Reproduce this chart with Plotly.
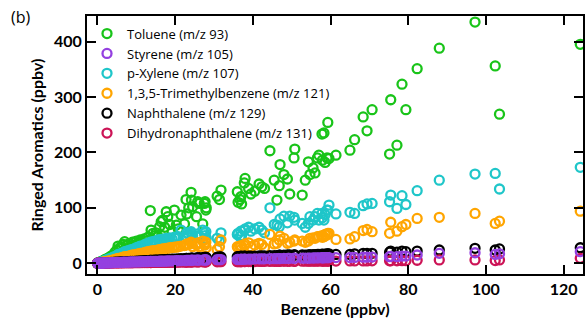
import plotly.graph_objects as go

benzene = [0.0, 0.3, 0.6, 0.9, 1.2, 1.5, 1.9, 2.3, 2.7, 3.1, 3.5, 4.0, 4.5, 5.0, 5.3, 5.8, 6.2, 6.6, 7.0, 7.5,
           8.0, 8.5, 9.0, 9.5, 10.0, 10.5, 11.0, 11.5, 12.0, 12.5, 13.0, 13.6, 13.8, 14.3, 14.8, 15.1, 15.6, 16.0, 16.4, 16.8,
           17.3, 17.7, 18.1, 18.6, 19.2, 19.8, 20.3, 20.8, 21.5, 22.4, 22.8, 23.0, 23.5, 24.1, 24.2, 24.5, 25.5, 25.8, 26.2, 27.1,
           27.5, 27.7, 27.9, 28.0, 30.8, 31.4, 31.8, 36.0, 36.2, 36.7, 36.9, 37.1, 37.8, 38.0, 38.9, 39.5, 40.5, 41.6, 42.3, 43.0,
           44.4, 45.5, 46.2, 46.8, 47.0, 48.0, 48.9, 49.5, 50.6, 50.8, 52.7, 53.5, 54.3, 54.7, 55.5, 56.0, 56.6, 57.0, 57.8, 57.9,
           58.3, 58.6, 59.1, 59.3, 59.6, 61.4, 65.0, 66.2, 68.4, 69.4, 70.7, 75.2, 75.5, 77.1, 78.4, 79.4, 82.3, 88.0, 97.2, 102.4,
           103.5, 124.3]

toluene = [0.5, 1.2, 2.0, 2.8, 4.0, 5.0, 6.5, 8.0, 9.0, 11, 13, 15, 20, 24, 31, 28, 30, 34, 39, 32,
           35, 30, 38, 33, 40, 36, 42, 38, 44, 40, 47, 95, 60, 54, 50, 55, 48, 66, 75, 78,
           65, 93, 84, 70, 58, 96, 69, 62, 87, 71, 115, 89, 100, 128, 114, 102, 84, 111, 108, 71,
           108, 111, 96, 100, 121, 115, 132, 129, 110, 115, 120, 107, 145, 153, 135, 125, 130, 143, 138, 135,
           203, 150, 114, 140, 178, 160, 152, 125, 190, 206, 123, 150, 183, 160, 172, 163, 190, 195, 233, 186,
           235, 182, 190, 254, 189, 195, 204, 223, 264, 239, 277, 197, 295, 213, 323, 277, 351, 388, 435, 356,
           269, 395]

styrene = [0.1, 0.1, 0.2, 0.3, 0.4, 0.5, 0.6, 0.7, 0.8, 0.9, 1.0, 1.2, 1.3, 1.5, 1.6, 1.6, 1.8, 1.9, 2.0, 2.0,
           2.2, 2.3, 2.4, 2.5, 2.6, 2.7, 2.8, 2.9, 3.0, 3.1, 3.2, 3.3, 3.3, 3.4, 3.5, 3.5, 3.6, 3.7, 3.8, 3.9,
           4.0, 4.1, 4.2, 4.3, 4.4, 4.5, 4.6, 4.7, 4.8, 4.9, 5.0, 5.1, 5.2, 5.3, 5.4, 5.5, 5.6, 5.7, 5.8, 5.9,
           6.0, 6.0, 6.1, 6.0, 6.5, 6.6, 6.7, 7.0, 7.0, 7.0, 7.2, 7.3, 7.4, 7.5, 7.6, 7.7, 7.9, 8.0, 8.0, 8.1,
           8.2, 8.3, 8.4, 8.5, 8.6, 8.7, 8.8, 8.9, 9.0, 9.1, 9.2, 9.3, 9.4, 9.5, 9.6, 9.7, 9.8, 9.9, 10.0, 10.0,
           10.0, 10.1, 10.2, 10.2, 10.3, 10.3, 10.5, 10.6, 11.0, 11.0, 11.2, 12.0, 12.5, 12.0, 13.0, 13.0, 15, 18, 19, 16,
           17, 21]

p_xylene = [0.3, 0.8, 1.5, 2.0, 3.0, 4.0, 5.0, 6.0, 7.5, 8, 9, 11, 12, 14, 16, 15, 18, 19, 21, 22,
            23, 24, 25, 26, 28, 29, 31, 30, 33, 35, 36, 38, 37, 39, 40, 38, 42, 41, 43, 40,
            44, 45, 42, 46, 44, 47, 45, 48, 60, 45, 50, 55, 52, 57, 54, 50, 48, 53, 49, 60,
            55, 50, 57, 45, 45, 40, 55, 52, 54, 48, 58, 50, 60, 62, 65, 58, 62, 65, 60, 55,
            100, 70, 69, 66, 80, 85, 73, 85, 83, 78, 72, 65, 72, 84, 78, 84, 90, 78, 90, 82,
            78, 88, 96, 96, 105, 89, 92, 90, 104, 107, 108, 111, 123, 99, 122, 106, 131, 150, 161, 162,
            134, 173]

trimethylbenzene = [0.2, 0.5, 0.9, 1.2, 1.8, 2.5, 3.0, 3.5, 4.0, 4.5, 5, 6, 7, 8, 9, 9, 10, 11, 12, 12,
                    13, 14, 15, 15, 16, 17, 18, 18, 19, 20, 21, 22, 21, 23, 23, 22, 24, 24, 25, 26,
                    26, 27, 27, 28, 28, 29, 29, 30, 31, 32, 33, 35, 34, 38, 36, 30, 33, 37, 30, 40,
                    35, 33, 38, 28, 25, 30, 42, 30, 28, 30, 32, 26, 32, 35, 37, 30, 33, 36, 34, 28,
                    52, 35, 36, 42, 49, 45, 36, 38, 40, 42, 40, 38, 40, 45, 46, 45, 48, 48, 50, 47,
                    48, 52, 51, 54, 54, 43, 44, 48, 59, 61, 57, 54, 74, 58, 66, 70, 81, 83, 90, 72,
                    76, 94]

naphthalene = [0.1, 0.2, 0.3, 0.4, 0.5, 0.6, 0.8, 1.0, 1.1, 1.3, 1.5, 1.7, 1.9, 2.0, 2.2, 2.3, 2.5, 2.6, 2.8, 3.0,
               3.1, 3.3, 3.5, 3.6, 3.8, 4.0, 4.2, 4.4, 4.6, 4.8, 5.0, 5.2, 5.2, 5.4, 5.6, 5.7, 5.9, 6.1, 6.2, 6.4,
               6.6, 6.7, 6.9, 7.1, 7.3, 7.5, 7.7, 7.9, 8.2, 8.5, 8.7, 8.8, 9.0, 9.2, 9.3, 9.4, 9.7, 9.9, 10.0, 10.4,
               10.5, 10.6, 10.7, 10.5, 11, 11.5, 11.5, 12, 12, 12.5, 12.5, 13, 13, 13, 13, 13, 13, 13.5, 13.5, 13.5,
               14, 14, 14, 14.5, 14.5, 14.5, 15, 15, 15, 15, 15, 14.5, 15, 15.5, 15.5, 15.5, 16, 16, 16.5, 16,
               16, 16.5, 17, 17, 17, 16, 16, 17, 18, 18, 18, 20, 22, 20, 22, 21, 22, 24, 27, 24,
               26, 28]

dihydronaphthalene = [0.1, 0.1, 0.1, 0.1, 0.2, 0.2, 0.3, 0.3, 0.4, 0.4, 0.5, 0.5, 0.6, 0.7, 0.7, 0.7, 0.8, 0.8, 0.9, 0.9,
                      1.0, 1.0, 1.0, 1.1, 1.1, 1.2, 1.2, 1.3, 1.3, 1.3, 1.4, 1.4, 1.4, 1.5, 1.5, 1.5, 1.6, 1.6, 1.7, 1.7,
                      1.7, 1.8, 1.8, 1.9, 1.9, 2.0, 2.0, 2.0, 2.1, 2.1, 2.2, 2.2, 2.3, 2.3, 2.4, 2.4, 2.5, 2.5, 2.6, 2.6,
                      2.7, 2.7, 2.8, 2.7, 2.8, 2.9, 2.9, 3.0, 3.0, 3.0, 3.0, 3.0, 3.1, 3.1, 3.2, 3.2, 3.2, 3.3, 3.3, 3.3,
                      3.4, 3.4, 3.5, 3.5, 3.5, 3.6, 3.6, 3.6, 3.7, 3.7, 3.8, 3.8, 3.8, 3.9, 3.9, 3.9, 4.0, 4.0, 4.0, 4.0,
                      4.0, 4.0, 4.1, 4.1, 4.1, 4.1, 4.2, 4.2, 4.3, 4.3, 4.4, 4.5, 4.6, 4.6, 4.8, 4.8, 5.5, 6, 6, 5,
                      6, 9]

series = [
    # (name, values, color, legend rank) in drawing order
    ("Toluene (m/z 93)", toluene, "#19c419", 1),
    ("p-Xylene (m/z 107)", p_xylene, "#1fc6c9", 3),
    ("1,3,5-Trimethylbenzene (m/z 121)", trimethylbenzene, "#ffa500", 4),
    ("Naphthalene (m/z 129)", naphthalene, "#000000", 5),
    ("Dihydronaphthalene (m/z 131)", dihydronaphthalene, "#cc1456", 6),
    ("Styrene (m/z 105)", styrene, "#9440e0", 2),
]

fig = go.Figure()
for name, vals, color, rank in series:
    fig.add_trace(go.Scatter(
        x=benzene, y=vals, mode="markers", name=name, legendrank=rank,
        marker=dict(symbol="circle-open", size=9, color=color, line=dict(width=2.3, color=color)),
    ))

FONT = "Lato"
axis_common = dict(
    showline=True, linewidth=2, linecolor="black", mirror="ticks",
    ticks="inside", ticklen=9, tickwidth=2, tickcolor="black",
    showgrid=False, zeroline=False,
    tickfont=dict(family=FONT, size=16, color="black", weight="bold"),
)

fig.update_xaxes(range=[-2.7, 125], tickvals=[0, 20, 40, 60, 80, 100, 120], **axis_common,
                 title=dict(text="Benzene (ppbv)", standoff=7,
                            font=dict(family=FONT, size=16, color="black", weight="bold")))
fig.update_yaxes(range=[-19.3, 446], tickvals=[0, 100, 200, 300, 400], **axis_common,
                 title=dict(text="Ringed Aromatics (ppbv)", standoff=6,
                            font=dict(family=FONT, size=16, color="black", weight="bold")))

fig.update_layout(
    width=585, height=324,
    margin=dict(l=87, r=0, t=16, b=50),
    plot_bgcolor="white", paper_bgcolor="white",
    showlegend=True,
    legend=dict(x=0.0, y=0.99, xanchor="left", yanchor="top", bgcolor="rgba(0,0,0,0)",
                font=dict(family="Open Sans", size=13, color="black"), tracegroupgap=0),
    annotations=[dict(text="(b)", x=-0.157, y=0.995, xref="paper", yref="paper",
                      xanchor="left", yanchor="middle", showarrow=False,
                      font=dict(family="Open Sans", size=16, color="black"))],
)

fig.write_html("out.html")
